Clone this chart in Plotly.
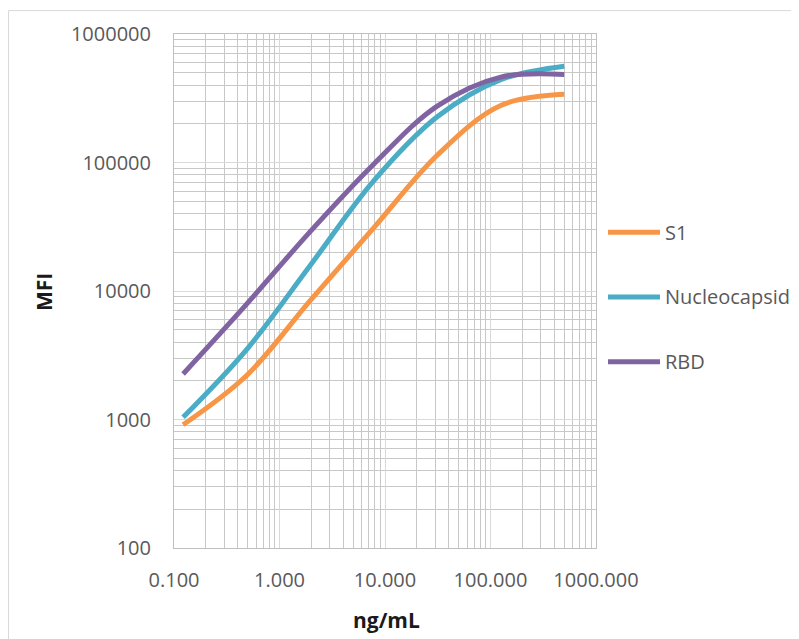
import plotly.graph_objects as go

# Data
conc = [0.122, 0.488, 1.953, 7.8125, 31.25, 125, 500]
s1 = [910, 2200, 8400, 31000, 114000, 278000, 339000]
nucleocapsid = [1040, 3500, 15800, 72000, 227000, 442000, 562000]
rbd = [2260, 7900, 29000, 97000, 275000, 462000, 484000]

series_names = ["S1", "Nucleocapsid", "RBD"]
series_values = [s1, nucleocapsid, rbd]
series_colors = ["#F79646", "#4BACC6", "#8064A2"]

x_tickvals = [0.1, 1, 10, 100, 1000]
x_ticktext = ["0.100", "1.000", "10.000", "100.000", "1000.000"]
y_tickvals = [100, 1000, 10000, 100000, 1000000]
y_ticktext = ["100", "1000", "10000", "100000", "1000000"]

# page is offset by the 8px body margin; size the figure so the plot area
# lands where the reference has it
OFF = 8
W, H = 799 - OFF, 639 - OFF
L, R, T, B = 174 - OFF, 203, 32 - OFF, 91
pw, ph = W - L - R, H - T - B

def px_to_paper_x(px):  # px in reference-page pixels
    return (px - OFF - L) / pw

def px_to_paper_y(py):
    return (H - B - (py - OFF)) / ph

FONT = "Open Sans"
TICK_COLOR = "#595959"

fig = go.Figure()
for name, vals, col in zip(series_names, series_values, series_colors):
    fig.add_trace(go.Scatter(
        x=conc, y=vals, mode="lines", name=name,
        line=dict(color=col, width=5, shape="spline", smoothing=1.0),
        showlegend=False,
    ))

grid_common = dict(
    type="log",
    showline=True, linecolor="#bfbfbf", linewidth=1, mirror=True,
    showgrid=True, gridcolor="#d9d9d9", gridwidth=1,
    ticks="", zeroline=False,
    tickfont=dict(family=FONT, size=20, color=TICK_COLOR),
    minor=dict(dtick="D1", showgrid=True, gridcolor="#c8c8c8", gridwidth=1, ticks=""),
)

fig.update_xaxes(range=[-1, 3], tickvals=x_tickvals, ticktext=x_ticktext,
                 ticklabelstandoff=14, **grid_common)
fig.update_yaxes(range=[2, 6], tickvals=y_tickvals, ticktext=y_ticktext,
                 ticklabelstandoff=18, **grid_common)

annotations = [
    dict(text="<b>ng/mL</b>", xref="paper", yref="paper",
         x=px_to_paper_x(386), y=px_to_paper_y(620), xanchor="center", yanchor="middle",
         showarrow=False, font=dict(family=FONT, size=21, color="#1a1a1a")),
    dict(text="<b>MFI</b>", xref="paper", yref="paper", textangle=-90,
         x=px_to_paper_x(44), y=px_to_paper_y(291), xanchor="center", yanchor="middle",
         showarrow=False, font=dict(family=FONT, size=21, color="#1a1a1a")),
]
shapes = [
    dict(type="rect", xref="paper", yref="paper",
         x0=px_to_paper_x(OFF + 0.5), x1=px_to_paper_x(OFF + W + 10),
         y0=px_to_paper_y(OFF + H + 10), y1=px_to_paper_y(OFF + 0.5),
         line=dict(color="#d9d9d9", width=1), layer="below"),
]

# manual legend
legend_y_px = [231, 296, 361]
for name, col, ly in zip(series_names, series_colors, legend_y_px):
    shapes.append(dict(type="line", xref="paper", yref="paper",
                       x0=px_to_paper_x(608), x1=px_to_paper_x(660),
                       y0=px_to_paper_y(ly), y1=px_to_paper_y(ly),
                       line=dict(color=col, width=5)))
    annotations.append(dict(text=name, xref="paper", yref="paper",
                            x=px_to_paper_x(663), y=px_to_paper_y(ly),
                            xanchor="left", yanchor="middle", showarrow=False,
                            font=dict(family=FONT, size=20, color=TICK_COLOR)))

fig.update_layout(
    width=W, height=H,
    margin=dict(l=L, r=R, t=T, b=B, pad=0),
    paper_bgcolor="white", plot_bgcolor="white",
    annotations=annotations, shapes=shapes,
    showlegend=False,
)

fig.write_html("out.html")
